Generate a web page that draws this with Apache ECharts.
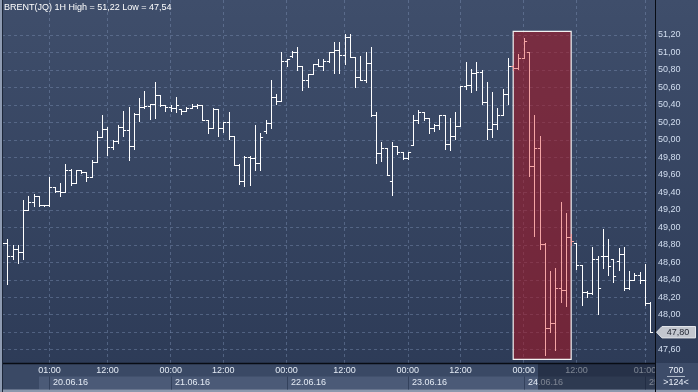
<!DOCTYPE html>
<html><head><meta charset="utf-8">
<script src="https://cdn.jsdelivr.net/npm/echarts/dist/echarts.min.js"></script>
<style>html,body{margin:0;padding:0;background:#2e3c58;overflow:hidden}#c{width:698px;height:392px}</style>
</head><body><div id="c"></div>
<script>
const opens = [48.84,48.82,48.67,48.75,48.72,49.20,49.29,49.36,49.25,49.25,
49.46,49.42,49.40,49.66,49.51,49.65,49.63,49.57,49.75,50.03,
50.12,49.92,49.99,50.15,50.11,49.93,50.30,50.38,50.39,50.41,
50.51,50.40,50.38,50.36,50.35,50.33,50.36,50.39,50.40,50.23,
50.14,50.35,50.14,50.20,50.05,49.71,49.53,49.80,49.79,49.74,
50.10,50.19,50.49,50.45,50.90,50.96,51.01,50.84,50.69,50.75,
50.87,50.84,50.90,51.01,51.03,50.97,51.18,50.95,50.72,50.69,
50.88,50.28,49.85,49.91,49.53,49.93,49.86,49.79,49.94,50.23,
50.32,50.25,50.14,50.17,50.28,49.95,50.04,50.16,50.62,50.63,
50.77,50.78,50.43,50.13,50.18,50.29,50.52,50.84,50.82,50.94,
51.01,49.70,49.91,48.81,47.85,47.90,48.31,48.28,48.89,48.82,
48.57,48.26,48.25,48.64,48.67,48.67,48.64,48.62,48.69,48.30,
48.40,48.45,48.40,48.13];
const highs = [48.90,48.87,48.80,48.80,49.31,49.36,49.38,49.36,49.26,49.57,
49.46,49.51,49.72,49.67,49.66,49.65,49.63,49.77,50.10,50.28,
50.15,50.00,50.17,50.33,50.38,50.31,50.48,50.56,50.41,50.66,
50.51,50.40,50.40,50.49,50.35,50.38,50.41,50.41,50.40,50.23,
50.37,50.35,50.21,50.32,50.05,49.72,49.82,49.81,50.17,50.08,
50.23,50.69,50.53,51.00,50.93,51.02,51.06,50.85,50.75,50.87,
50.92,50.92,51.01,51.12,51.12,51.21,51.21,50.95,50.96,51.01,
51.06,50.32,49.98,49.91,49.98,49.93,49.86,49.86,50.28,50.34,
50.32,50.25,50.18,50.29,50.28,50.25,50.32,50.62,50.89,50.81,
50.89,50.80,50.66,50.55,50.37,50.58,50.94,50.86,50.98,51.17,
51.01,50.28,50.05,48.82,48.50,48.54,49.29,49.16,48.92,48.82,
48.57,48.27,48.78,48.67,48.98,48.87,48.64,48.76,48.78,48.50,
48.48,48.49,48.58,48.14];
const lows = [48.78,48.35,48.64,48.59,48.64,49.20,49.24,49.24,49.24,49.24,
49.40,49.36,49.40,49.48,49.51,49.62,49.53,49.57,49.75,50.03,
49.83,49.90,49.96,50.05,49.77,49.89,50.22,50.37,50.24,50.25,
50.39,50.33,50.33,50.32,50.30,50.33,50.36,50.37,50.23,50.08,
50.14,50.04,50.09,50.01,49.71,49.50,49.47,49.48,49.66,49.65,
50.08,50.14,50.41,50.44,50.85,50.95,50.80,50.57,50.60,50.75,
50.84,50.80,50.89,50.77,50.77,50.87,50.95,50.60,50.68,50.66,
50.27,49.73,49.76,49.60,49.37,49.84,49.78,49.78,49.94,50.19,
50.23,50.08,50.10,50.12,49.89,49.88,50.01,50.16,50.58,50.55,
50.57,50.41,50.01,50.03,50.12,50.29,50.41,50.80,50.81,50.94,
49.59,48.90,48.75,47.54,47.80,47.60,48.14,48.10,48.80,48.52,
48.11,48.20,48.24,48.01,48.54,48.46,48.38,48.51,48.28,48.29,
48.40,48.36,48.11,47.80];
const closes = [48.82,48.67,48.75,48.72,49.20,49.29,49.36,49.25,49.25,49.46,
49.42,49.40,49.66,49.51,49.65,49.63,49.57,49.75,50.03,50.12,
49.92,49.99,50.15,50.11,49.93,50.30,50.38,50.39,50.41,50.51,
50.40,50.38,50.36,50.40,50.33,50.36,50.39,50.40,50.23,50.14,
50.35,50.14,50.20,50.05,49.71,49.53,49.80,49.79,49.74,50.03,
50.19,50.49,50.45,50.90,50.92,51.01,50.84,50.69,50.75,50.87,
50.84,50.90,51.01,51.03,50.97,51.18,50.95,50.72,50.69,50.88,
50.28,49.85,49.91,49.60,49.93,49.86,49.79,49.86,50.23,50.32,
50.25,50.14,50.17,50.28,49.95,50.04,50.16,50.62,50.63,50.77,
50.78,50.43,50.13,50.18,50.29,50.52,50.84,50.82,50.94,51.13,
49.70,49.91,48.81,47.85,47.90,48.31,48.28,48.89,48.84,48.57,
48.26,48.25,48.64,48.30,48.67,48.56,48.44,48.69,48.30,48.40,
48.45,48.40,48.13,47.80];
const categories = opens.map((_, i) => String(i));
const tickIndex = [9, 20, 32, 42, 54, 65, 77, 87, 99, 109, 122];
const tickLabels = ['01:00','12:00','00:00','12:00','00:00','12:00','00:00','12:00','00:00','12:00','01:00'];
const dateIndex = [9, 32, 54, 77, 99, 122];
const dateLabels = ['20.06.16','21.06.16','22.06.16','23.06.16','24.06.16','25.06.16'];
const highlightFrom = 97, highlightTo = 108;
const highlightTop = 51.24, highlightBottom = 47.49;
const titleText = 'BRENT(JQ) 1H High = 51,22 Low = 47,54';
const lastPrice = closes[closes.length - 1];
const yMin = 47.4, yMax = 51.6, yStep = 0.2, yShowFrom = 47.6, yShowTo = 51.2;

const FONT = '"Liberation Sans", Arial, sans-serif';
const data = opens.map((o, i) => [i, o, highs[i], lows[i], closes[i]]);

const chart = echarts.init(document.getElementById('c'), null, {renderer: 'canvas'});

function renderItem(params, api) {
  const idx = api.value(0);
  const o = api.coord([idx, api.value(1)]);
  const h = api.coord([idx, api.value(2)]);
  const l = api.coord([idx, api.value(3)]);
  const c = api.coord([idx, api.value(4)]);
  const x = Math.round(o[0]) + 0.5;
  const t = 2.6;
  const inHl = idx >= highlightFrom && idx <= highlightTo;
  const style = {stroke: inHl ? '#f5a5a5' : '#ffffff', lineWidth: 1};
  const oy = Math.round(o[1]) + 0.5, cy = Math.round(c[1]) + 0.5;
  return {type: 'group', children: [
    {type: 'line', shape: {x1: x, y1: Math.round(h[1]), x2: x, y2: Math.round(l[1]) + 1}, style},
    {type: 'line', shape: {x1: x - t, y1: oy, x2: x, y2: oy}, style},
    {type: 'line', shape: {x1: x, y1: cy, x2: x + t, y2: cy}, style}
  ]};
}

const gridColor = 'rgba(125,145,180,0.45)';
const nLines = Math.round((yMax - yMin) / yStep) + 1;
const hColors = [];
for (let k = 0; k < nLines; k++) {
  const v = yMin + k * yStep;
  hColors.push(v < yShowFrom - 0.01 || v > yShowTo + 0.01 ? 'rgba(0,0,0,0)' : gridColor);
}

chart.setOption({
  animation: false,
  backgroundColor: {type: 'linear', x: 0, y: 0, x2: 0, y2: 1,
    colorStops: [{offset: 0, color: '#3f4e6b'}, {offset: 1, color: '#2c3a56'}]},
  title: {text: titleText, left: 4, top: 3, padding: 0,
    textStyle: {color: '#ffffff', fontSize: 9, fontWeight: 'normal', fontFamily: FONT}},
  grid: {left: 2.03, right: 47.8, top: -9.14, bottom: 24.82, containLabel: false},
  xAxis: {type: 'category', data: categories, boundaryGap: false,
    axisLine: {show: false}, axisTick: {show: false}, axisLabel: {show: false},
    splitLine: {show: true, interval: (i) => tickIndex.includes(i),
      lineStyle: {color: gridColor, type: [3, 3], width: 1}}},
  yAxis: {type: 'value', position: 'right', min: yMin, max: yMax, interval: yStep, offset: 4.8,
    axisLine: {show: false}, axisTick: {show: false},
    axisLabel: {margin: 3, color: '#d2def0', fontSize: 9, fontFamily: FONT,
      formatter: (v) => (v < yShowFrom - 0.01 || v > yShowTo + 0.01) ? '' : v.toFixed(2).replace('.', ',')},
    splitLine: {show: true, lineStyle: {color: hColors, type: [3, 3], width: 1}}},
  series: [
    {type: 'line', data: [], z: 2, silent: true,
      markArea: {silent: true,
        itemStyle: {color: 'rgba(170,20,32,0.55)', borderColor: '#f2f2f2', borderWidth: 1.2},
        data: [[{xAxis: String(highlightFrom), yAxis: highlightTop}, {xAxis: String(highlightTo), yAxis: highlightBottom}]]}},
    {type: 'custom', data: data, renderItem: renderItem, z: 3, clip: false,
      encode: {x: 0, y: [1, 2, 3, 4]}}
  ]
});

const xs = (i) => chart.convertToPixel({xAxisIndex: 0}, i);
const yLast = chart.convertToPixel({yAxisIndex: 0}, lastPrice);
const g = [];
const Z = 100;
g.push({type: 'rect', shape: {x: 0, y: 363, width: 655, height: 29}, style: {fill: '#3a4965'}, z: Z});
g.push({type: 'rect', shape: {x: 39, y: 376.5, width: 616, height: 13}, style: {fill: '#4b5a77'}, z: Z});
g.push({type: 'rect', shape: {x: 0, y: 389.5, width: 698, height: 3}, style: {fill: '#8c98ad'}, z: Z + 1});
dateIndex.forEach((di, k) => {
  const x = Math.round(xs(di)) + 0.5;
  g.push({type: 'line', shape: {x1: x, y1: 376.5, x2: x, y2: 389.5}, style: {stroke: '#33415c', lineWidth: 1}, z: Z + 1});
  g.push({type: 'text', x: x + 3.5, y: 383, style: {text: dateLabels[k], fill: '#e4ebf5', fontSize: 9, fontFamily: FONT, textVerticalAlign: 'middle', textAlign: 'left'}, z: Z + 2});
});
tickIndex.forEach((ti, k) => {
  g.push({type: 'text', x: xs(ti), y: 371, style: {text: tickLabels[k], fill: '#e4ebf5', fontSize: 9, fontFamily: FONT, textVerticalAlign: 'middle', textAlign: 'center'}, z: Z + 2});
});
g.push({type: 'rect', shape: {x: 538, y: 363, width: 117, height: 26.5}, style: {fill: 'rgba(18,26,44,0.5)'}, z: Z + 3});
g.push({type: 'rect', shape: {x: 655, y: 363, width: 43, height: 26.5}, style: {fill: '#3d4c69'}, z: Z + 4});
g.push({type: 'text', x: 676, y: 370.5, style: {text: '700', fill: '#e8eef8', fontSize: 9, fontFamily: FONT, textAlign: 'center', textVerticalAlign: 'middle'}, z: Z + 5});
g.push({type: 'line', shape: {x1: 667, y1: 376.5, x2: 685, y2: 376.5}, style: {stroke: '#aeb8c8', lineWidth: 1}, z: Z + 5});
g.push({type: 'text', x: 676, y: 383, style: {text: '>124<', fill: '#e8eef8', fontSize: 9, fontFamily: FONT, textAlign: 'center', textVerticalAlign: 'middle'}, z: Z + 5});
g.push({type: 'line', shape: {x1: 0, y1: 363.5, x2: 655, y2: 363.5}, style: {stroke: '#080c14', lineWidth: 1.5}, z: Z + 6});
g.push({type: 'line', shape: {x1: 655.5, y1: 0, x2: 655.5, y2: 392}, style: {stroke: '#080c14', lineWidth: 1}, z: Z + 6});
g.push({type: 'rect', shape: {x: 0, y: 0, width: 2, height: 392}, style: {fill: '#8e9bb2'}, z: Z + 6});
g.push({type: 'line', shape: {x1: 2.5, y1: 0, x2: 2.5, y2: 392}, style: {stroke: '#1c2638', lineWidth: 1}, z: Z + 6});
g.push({type: 'polygon', shape: {points: [[656.5, yLast], [662, yLast - 5.7], [695.5, yLast - 5.7], [695.5, yLast + 5.7], [662, yLast + 5.7]]},
  style: {fill: '#c3c7cf', stroke: '#e2e5ea', lineWidth: 1}, z: Z + 7});
g.push({type: 'text', x: 678, y: yLast, style: {text: lastPrice.toFixed(2).replace('.', ','), fill: '#1e2330', fontSize: 9, fontFamily: FONT, textAlign: 'center', textVerticalAlign: 'middle'}, z: Z + 8});
chart.setOption({graphic: g});
</script>
</body></html>
